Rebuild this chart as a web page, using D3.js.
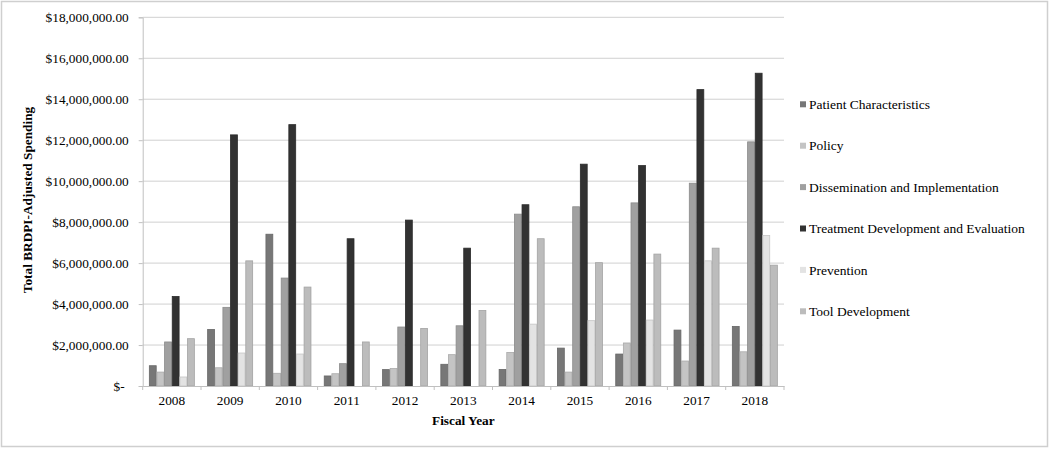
<html>
<head>
<meta charset="utf-8">
<title>BRDPI-Adjusted Spending by Fiscal Year</title>
<style type="text/css">
    body { margin: 0; background: #fff; }
    svg text { font-family: "Times New Roman", "Liberation Serif", serif; fill: #000; }
</style>
</head>
<body>
<script src="https://d3js.org/d3.v7.min.js"></script>
<script>

    // data
    var years = ["2008", "2009", "2010", "2011", "2012", "2013", "2014", "2015", "2016", "2017", "2018"];
    var series = ["Patient Characteristics", "Policy", "Dissemination and Implementation",
                  "Treatment Development and Evaluation", "Prevention", "Tool Development"];

    var patientCharacteristics = [990000, 2760000, 7410000, 490000, 800000, 1060000, 810000, 1850000, 1560000, 2730000, 2910000];
    var policy = [680000, 890000, 620000, 600000, 850000, 1530000, 1640000, 680000, 2100000, 1220000, 1670000];
    var dissemination = [2150000, 3840000, 5270000, 1090000, 2880000, 2940000, 8390000, 8750000, 8940000, 9900000, 11920000];
    var treatment = [4370000, 12260000, 12760000, 7190000, 8100000, 6730000, 8850000, 10830000, 10760000, 14470000, 15270000];
    var prevention = [440000, 1610000, 1560000, 0, 0, 0, 3020000, 3190000, 3220000, 6110000, 7350000];
    var toolDevelopment = [2310000, 6110000, 4830000, 2150000, 2810000, 3690000, 7190000, 6020000, 6440000, 6730000, 5900000];

    var yTicks = [0, 2000000, 4000000, 6000000, 8000000, 10000000, 12000000, 14000000, 16000000, 18000000];

    var seriesValues = [patientCharacteristics, policy, dissemination, treatment, prevention, toolDevelopment];
    var colors = ["#777777", "#c4c4c4", "#a0a0a0", "#323232", "#e3e3e3", "#bcbcbc"];

    var W = 1050, H = 449;
    var margin = {top: 17.3, right: 266, bottom: 63, left: 142.7},
        width = W - margin.left - margin.right,
        height = H - margin.top - margin.bottom;

    var svg = d3.select("body").append("svg")
        .attr("width", W)
        .attr("height", H);

    // outer frame
    svg.append("rect")
        .attr("x", 1.5).attr("y", 1.5)
        .attr("width", W - 4).attr("height", H - 4)
        .attr("fill", "#fff")
        .attr("stroke", "#cfcfcf")
        .attr("stroke-width", 1.5);

    var g = svg.append("g")
        .attr("transform", "translate(" + margin.left + "," + margin.top + ")");

    var x0 = d3.scaleBand().domain(years).range([0, width]).padding(0);
    var x1 = d3.scaleBand().domain(series).range([0, x0.bandwidth()])
        .paddingInner(0.1).paddingOuter(0.87);
    var y = d3.scaleLinear().domain([0, 18000000]).range([height, 0]);

    // gridlines
    g.selectAll(".grid")
        .data(yTicks.slice(1))
        .enter().append("line")
        .attr("x1", 0).attr("x2", width)
        .attr("y1", function(d) { return y(d); })
        .attr("y2", function(d) { return y(d); })
        .attr("stroke", "#d0d0d0")
        .attr("stroke-width", 1);

    // y axis
    var yAxis = g.append("g")
        .call(d3.axisLeft(y).tickValues(yTicks).tickSize(4).tickPadding(10)
            .tickFormat(function(d) { return d === 0 ? "$-" : "$" + d3.format(",.2f")(d); }));
    yAxis.select(".domain").attr("stroke", "#c0c0c0");
    yAxis.selectAll(".tick line").attr("stroke", "#c0c0c0");
    yAxis.selectAll(".tick text")
        .attr("font-size", 13.3)
        .attr("font-family", "'Times New Roman', 'Liberation Serif', serif")
        .attr("dx", function(d) { return d === 0 ? -4 : 0; });

    // bars
    var groups = g.selectAll(".year")
        .data(years)
        .enter().append("g")
        .attr("transform", function(d) { return "translate(" + x0(d) + ",0)"; });

    groups.selectAll("rect")
        .data(function(d, i) {
            return series.map(function(s, j) { return {key: s, idx: j, value: seriesValues[j][i]}; });
        })
        .enter().filter(function(d) { return d.value > 0; }).append("rect")
        .attr("x", function(d) { return x1(d.key); })
        .attr("width", x1.bandwidth())
        .attr("y", function(d) { return y(d.value); })
        .attr("height", function(d) { return height - y(d.value); })
        .attr("fill", function(d) { return colors[d.idx]; })
        .attr("stroke", function(d) { return d3.color(colors[d.idx]).darker(0.4); })
        .attr("stroke-width", 0.8);

    // x axis
    var xAxis = g.append("g")
        .attr("transform", "translate(0," + height + ")")
        .call(d3.axisBottom(x0).tickSize(0).tickPadding(10));
    xAxis.select(".domain").attr("stroke", "#c0c0c0");
    xAxis.selectAll(".tick text")
        .attr("font-size", 13.3)
        .attr("font-family", "'Times New Roman', 'Liberation Serif', serif");

    // category boundary ticks
    g.selectAll(".xtick")
        .data(years.concat(["end"]))
        .enter().append("line")
        .attr("x1", function(d, i) { return i * x0.step(); })
        .attr("x2", function(d, i) { return i * x0.step(); })
        .attr("y1", height).attr("y2", height + 4)
        .attr("stroke", "#c0c0c0");

    // axis titles
    svg.append("text")
        .attr("text-anchor", "middle")
        .attr("x", margin.left + width / 2)
        .attr("y", 425)
        .attr("font-size", 13.3)
        .attr("font-weight", "bold")
        .text("Fiscal Year");

    svg.append("text")
        .attr("text-anchor", "middle")
        .attr("transform", "translate(32,200) rotate(-90)")
        .attr("font-size", 13.3)
        .attr("font-weight", "bold")
        .text("Total BRDPI-Adjusted Spending");

    // legend
    var legend = svg.selectAll(".legend")
        .data(series)
        .enter().append("g")
        .attr("transform", function(d, i) { return "translate(800," + (104.3 + i * 41.4) + ")"; });

    legend.append("rect")
        .attr("x", 0).attr("y", -3)
        .attr("width", 6).attr("height", 6)
        .attr("fill", function(d, i) { return colors[i]; });

    legend.append("text")
        .attr("x", 9)
        .attr("dy", "0.35em")
        .attr("font-size", 13.5)
        .text(function(d) { return d; });

</script>
</body>
</html>
